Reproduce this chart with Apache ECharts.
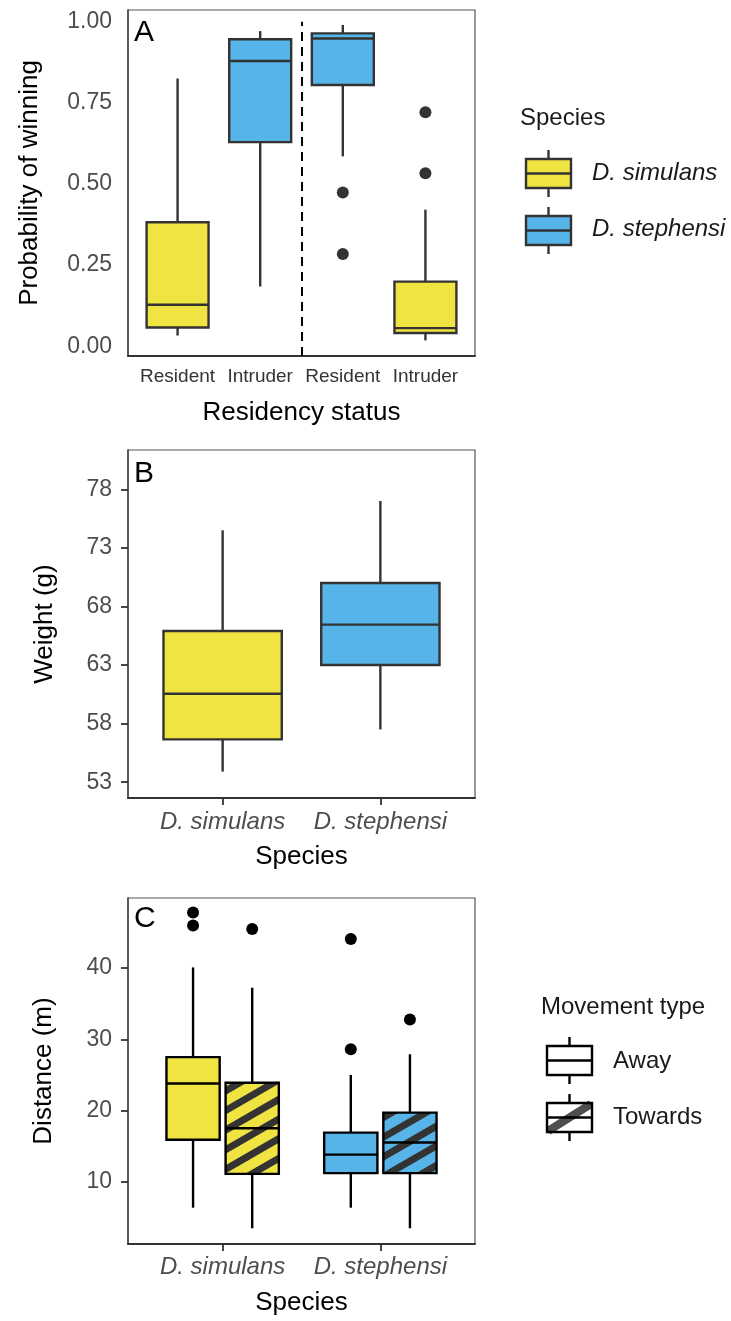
<!DOCTYPE html>
<html>
<head>
<meta charset="utf-8">
<script src="https://cdn.jsdelivr.net/npm/echarts@6/dist/echarts.min.js"></script>
<style>
  html, body { margin: 0; padding: 0; background: #ffffff; }
  #chart { width: 731px; height: 1321px; }
</style>
</head>
<body>
<div id="chart"></div>
<script>
// ---------- Panel A: probability of winning by residency status ----------
const residencyLabels = ['Resident', 'Intruder', 'Resident', 'Intruder'];
const residencySpecies = ['D. simulans', 'D. stephensi', 'D. stephensi', 'D. simulans'];
const winLow    = [0.033, 0.184, 0.585, 0.018];
const winQ1     = [0.058, 0.629, 0.805, 0.041];
const winMedian = [0.128, 0.879, 0.948, 0.056];
const winQ3     = [0.382, 0.946, 0.964, 0.199];
const winHigh   = [0.825, 0.971, 0.990, 0.421];
const winOutliers = [[], [], [0.474, 0.284], [0.721, 0.533]];
const winTicks = [0, 0.25, 0.5, 0.75, 1];
const speciesSplitX = 2.5;   // dashed separator between the two contest types

// ---------- Panel B: body weight by species ----------
const weightSpecies = ['D. simulans', 'D. stephensi'];
const weightLow    = [53.9, 57.5];
const weightQ1     = [56.65, 63.0];
const weightMedian = [60.55, 66.45];
const weightQ3     = [65.9, 70.0];
const weightHigh   = [74.5, 77.0];
const weightTicks = [53, 58, 63, 68, 73, 78];

// ---------- Panel C: distance moved by species and movement type ----------
const distSpeciesNames = ['D. simulans', 'D. stephensi'];
const movementTypes = ['Away', 'Towards'];
const distSpecies  = ['D. simulans', 'D. simulans', 'D. stephensi', 'D. stephensi'];
const distMovement = ['Away', 'Towards', 'Away', 'Towards'];
const distLow    = [6.35, 3.46, 6.35, 3.46];
const distQ1     = [15.9, 11.1, 11.2, 11.2];
const distMedian = [23.8, 17.5, 13.8, 15.5];
const distQ3     = [27.5, 23.9, 16.9, 19.7];
const distHigh   = [40.1, 37.25, 25.0, 27.9];
const distOutliers = [[47.8, 46.0], [45.5], [44.1, 28.6], [32.8]];
const distTicks = [10, 20, 30, 40];

// ---------- styling ----------
const FONT = '"Liberation Sans", Arial, sans-serif';
const YELLOW = '#F0E442';
const BLUE = '#56B4E9';
const speciesColor = { 'D. simulans': YELLOW, 'D. stephensi': BLUE };
const TICK_GREY = '#4d4d4d';
const LINE_W = 2.4;

// Diagonal stripe fill (30 degrees) used for the "Towards" boxes
function stripeFill(base) {
  const c = document.createElement('canvas');
  c.width = 731; c.height = 1321;
  const ctx = c.getContext('2d');
  ctx.fillStyle = base;
  ctx.fillRect(0, 0, c.width, c.height);
  ctx.save();
  ctx.rotate(-Math.PI / 6);
  ctx.fillStyle = '#333333';
  for (let k = -300; k < 300; k++) {
    ctx.fillRect(-4000, k * 17, 8000, 7);
  }
  ctx.restore();
  return { image: c, repeat: 'no-repeat' };
}
const hatched = { 'D. simulans': stripeFill(YELLOW), 'D. stephensi': stripeFill(BLUE) };

// Box-and-whisker renderer: data item = [x, low, q1, median, q3, high]
function boxRenderer(boxWidth, stroke, fillFor) {
  return function (params, api) {
    const x = api.value(0);
    const pLo = api.coord([x, api.value(1)]);
    const pQ1 = api.coord([x, api.value(2)]);
    const pMd = api.coord([x, api.value(3)]);
    const pQ3 = api.coord([x, api.value(4)]);
    const pHi = api.coord([x, api.value(5)]);
    const half = api.size([boxWidth, 0])[0] / 2;
    const cx = pLo[0];
    const ls = { stroke: stroke, lineWidth: LINE_W };
    return {
      type: 'group',
      children: [
        { type: 'line', shape: { x1: cx, y1: pHi[1], x2: cx, y2: pQ3[1] }, style: ls },
        { type: 'line', shape: { x1: cx, y1: pQ1[1], x2: cx, y2: pLo[1] }, style: ls },
        { type: 'rect', shape: { x: cx - half, y: pQ3[1], width: 2 * half, height: pQ1[1] - pQ3[1] },
          style: { fill: fillFor(params.dataIndex), stroke: stroke, lineWidth: LINE_W } },
        { type: 'line', shape: { x1: cx - half, y1: pMd[1], x2: cx + half, y2: pMd[1] }, style: ls }
      ]
    };
  };
}

// ---------- series data ----------
const boxA = residencyLabels.map((_, i) => [i + 1, winLow[i], winQ1[i], winMedian[i], winQ3[i], winHigh[i]]);
const outA = [];
winOutliers.forEach((arr, i) => arr.forEach(v => outA.push([i + 1, v])));

const boxB = weightSpecies.map((_, i) => [i + 1, weightLow[i], weightQ1[i], weightMedian[i], weightQ3[i], weightHigh[i]]);

const dodge = 0.375;
const distX = distSpecies.map((s, i) =>
  distSpeciesNames.indexOf(s) + 1 + (movementTypes.indexOf(distMovement[i]) - 0.5) * dodge);
const boxC = distX.map((x, i) => [x, distLow[i], distQ1[i], distMedian[i], distQ3[i], distHigh[i]]);
const outC = [];
distOutliers.forEach((arr, i) => arr.forEach(v => outC.push([distX[i], v])));

// ---------- axes ----------
const GRID_LEFT = 128, GRID_W = 347;

function yAxisFor(gridIndex, name, min, max, ticks, fmt, nameGap, showTicks) {
  return {
    gridIndex: gridIndex, type: 'value', min: min, max: max,
    name: name, nameLocation: 'middle', nameGap: nameGap,
    nameTextStyle: { fontSize: 26, color: '#000', fontFamily: FONT },
    axisLine: { show: true, lineStyle: { color: '#444', width: 1.5 } },
    axisTick: { show: showTicks, customValues: ticks, length: 7, lineStyle: { color: '#333', width: 1.8 } },
    splitLine: { show: false },
    axisLabel: { customValues: ticks, formatter: fmt, fontSize: 23, color: TICK_GREY,
                 fontFamily: FONT, margin: 16 }
  };
}

function xAxisFor(gridIndex, name, max, labels, fontSize, italic, margin, nameGap, showTicks) {
  const positions = labels.map((_, i) => i + 1);
  return {
    gridIndex: gridIndex, type: 'value', min: 0.4, max: max,
    name: name, nameLocation: 'middle', nameGap: nameGap,
    nameTextStyle: { fontSize: 26, color: '#000', fontFamily: FONT },
    axisLine: { show: true, onZero: false, lineStyle: { color: '#333', width: 1.8 } },
    axisTick: { show: showTicks, customValues: positions, length: 7, lineStyle: { color: '#333', width: 1.8 } },
    splitLine: { show: false },
    axisLabel: { customValues: positions, formatter: v => labels[Math.round(v) - 1],
                 fontSize: fontSize, fontStyle: italic ? 'italic' : 'normal',
                 color: italic ? '#4d4d4d' : '#333', fontFamily: FONT, margin: margin }
  };
}

// ---------- legends ----------
function legendKey(x, yTop, fill, stroke, striped) {
  // whisker 9px, box 29px, whisker 9px
  const w = 45, boxTop = yTop + 9, boxH = 29, cx = x + w / 2;
  const els = [
    { type: 'line', shape: { x1: cx, y1: yTop, x2: cx, y2: boxTop }, style: { stroke: stroke, lineWidth: LINE_W } },
    { type: 'line', shape: { x1: cx, y1: boxTop + boxH, x2: cx, y2: boxTop + boxH + 9 }, style: { stroke: stroke, lineWidth: LINE_W } },
    { type: 'rect', shape: { x: x, y: boxTop, width: w, height: boxH }, style: { fill: fill, stroke: null } }
  ];
  if (striped) {
    els.push({ type: 'line', shape: { x1: x + 1, y1: boxTop + boxH - 1, x2: x + w - 1, y2: boxTop + 1 },
               style: { stroke: '#444', lineWidth: 8, opacity: 0.95 } });
  }
  els.push({ type: 'rect', shape: { x: x, y: boxTop, width: w, height: boxH }, style: { fill: null, stroke: stroke, lineWidth: LINE_W } });
  els.push({ type: 'line', shape: { x1: x, y1: boxTop + boxH / 2, x2: x + w, y2: boxTop + boxH / 2 }, style: { stroke: stroke, lineWidth: LINE_W } });
  return els;
}
function legendText(x, y, text, size, italic) {
  return { type: 'text', x: x, y: y,
           style: { text: text, fontSize: size, fontFamily: FONT, fontStyle: italic ? 'italic' : 'normal',
                    fill: '#1a1a1a', align: 'left', verticalAlign: 'middle' } };
}

const graphics = [].concat(
  [legendText(520, 118, 'Species', 24, false)],
  legendKey(526, 150, speciesColor[distSpeciesNames[0]], '#333', false),
  [legendText(592, 173, distSpeciesNames[0], 24, true)],
  legendKey(526, 207, speciesColor[distSpeciesNames[1]], '#333', false),
  [legendText(592, 229, distSpeciesNames[1], 24, true)],
  [legendText(541, 1007, 'Movement type', 24, false)],
  legendKey(547, 1037, '#ffffff', '#000', false),
  [legendText(613, 1061, movementTypes[0], 24, false)],
  legendKey(547, 1094, '#ffffff', '#000', true),
  [legendText(613, 1117, movementTypes[1], 24, false)]
);

const option = {
  backgroundColor: '#ffffff',
  animation: false,
  textStyle: { fontFamily: FONT },
  title: [
    { text: 'A', left: 134, top: 18, padding: 0, textStyle: { fontSize: 30, fontWeight: 'normal', color: '#000', fontFamily: FONT } },
    { text: 'B', left: 134, top: 459, padding: 0, textStyle: { fontSize: 30, fontWeight: 'normal', color: '#000', fontFamily: FONT } },
    { text: 'C', left: 134, top: 904, padding: 0, textStyle: { fontSize: 30, fontWeight: 'normal', color: '#000', fontFamily: FONT } }
  ],
  grid: [
    { left: GRID_LEFT, top: 10, width: GRID_W, height: 346, show: true, borderColor: '#555', borderWidth: 1.2, containLabel: false },
    { left: GRID_LEFT, top: 450, width: GRID_W, height: 348, show: true, borderColor: '#555', borderWidth: 1.2, containLabel: false },
    { left: GRID_LEFT, top: 898, width: GRID_W, height: 346, show: true, borderColor: '#555', borderWidth: 1.2, containLabel: false }
  ],
  xAxis: [
    xAxisFor(0, 'Residency status', 4.6, residencyLabels, 19, false, 11, 44, false),
    xAxisFor(1, 'Species', 2.6, weightSpecies, 24, true, 12, 46, true),
    xAxisFor(2, 'Species', 2.6, distSpeciesNames, 24, true, 11, 46, true)
  ],
  yAxis: [
    yAxisFor(0, 'Probability of winning', -0.03, 1.036, winTicks, v => v.toFixed(2), 85, false),
    yAxisFor(1, 'Weight (g)', 51.65, 81.35, weightTicks, v => String(v), 70, true),
    yAxisFor(2, 'Distance (m)', 1.25, 49.85, distTicks, v => String(v), 71, true)
  ],
  series: [
    {
      type: 'custom', xAxisIndex: 0, yAxisIndex: 0, silent: true,
      encode: { x: 0, y: [1, 2, 3, 4, 5] },
      renderItem: boxRenderer(0.75, '#333333', i => speciesColor[residencySpecies[i]]),
      data: boxA
    },
    {
      type: 'scatter', xAxisIndex: 0, yAxisIndex: 0, silent: true,
      symbolSize: 12, itemStyle: { color: '#333333', opacity: 1 }, data: outA,
      markLine: {
        silent: true, symbol: 'none', label: { show: false },
        lineStyle: { color: '#000', width: 2, type: [9, 6] },
        data: [[{ coord: [speciesSplitX, -0.03] }, { coord: [speciesSplitX, 1] }]]
      }
    },
    {
      type: 'custom', xAxisIndex: 1, yAxisIndex: 1, silent: true,
      encode: { x: 0, y: [1, 2, 3, 4, 5] },
      renderItem: boxRenderer(0.75, '#333333', i => speciesColor[weightSpecies[i]]),
      data: boxB
    },
    {
      type: 'custom', xAxisIndex: 2, yAxisIndex: 2, silent: true,
      encode: { x: 0, y: [1, 2, 3, 4, 5] },
      renderItem: boxRenderer(0.3375, '#000000', i =>
        distMovement[i] === 'Towards' ? hatched[distSpecies[i]] : speciesColor[distSpecies[i]]),
      data: boxC
    },
    {
      type: 'scatter', xAxisIndex: 2, yAxisIndex: 2, silent: true,
      symbolSize: 12, itemStyle: { color: '#000000', opacity: 1 }, data: outC
    }
  ],
  graphic: graphics
};

const chart = echarts.init(document.getElementById('chart'), null, { renderer: 'canvas' });
chart.setOption(option);
</script>
</body>
</html>
